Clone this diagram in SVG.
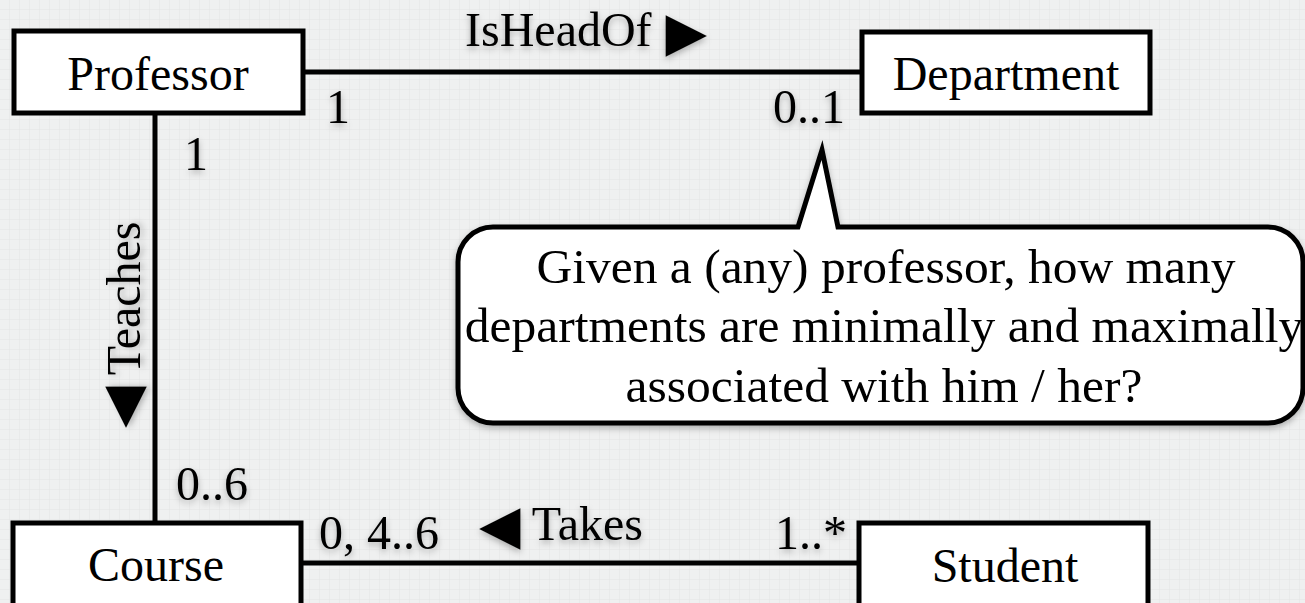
<svg xmlns="http://www.w3.org/2000/svg" width="1305" height="603" viewBox="0 0 1305 603">
  <defs>
    <pattern id="grid" width="10" height="10" patternUnits="userSpaceOnUse">
      <rect width="10" height="10" fill="#eff0f0"/>
      <path d="M10 0 V10 M0 10 H10" stroke="#e3e5e5" stroke-width="1" fill="none"/>
    </pattern>
    <filter id="shadow" x="-20%" y="-20%" width="140%" height="160%">
      <feDropShadow dx="0" dy="3" stdDeviation="3" flood-color="#000" flood-opacity="0.28"/>
    </filter>
  </defs>
  <style>
    .box { fill: #ffffff; stroke: #000000; stroke-width: 5; }
    .conn { stroke: #000000; stroke-width: 5; fill: none; }
    .t { font-family: "Liberation Serif", "Times New Roman", "DejaVu Serif", serif; font-size: 48px; fill: #000000; }
    .lbl { filter: url(#shadow); }
    .tri { font-family: "DejaVu Sans", sans-serif; font-size: 54px; }
    .c { text-anchor: middle; }
    .e { text-anchor: end; }
    .call { font-size: 49.5px; }
  </style>
  <rect width="1305" height="603" fill="url(#grid)"/>

  <g id="connectors">
    <line class="conn" x1="303" y1="72" x2="862" y2="72"/>
    <line class="conn" x1="155" y1="113" x2="155" y2="523"/>
    <line class="conn" x1="301" y1="563" x2="859" y2="563"/>
  </g>

  <g id="labels">
    <text class="t lbl" x="465" y="46">IsHeadOf <tspan class="tri" dx="2" dy="4">▶</tspan></text>
    <text class="t lbl" x="326" y="123">1</text>
    <text class="t lbl e" x="845" y="123">0..1</text>
    <text class="t lbl" x="184" y="170">1</text>
    <text class="t lbl" transform="translate(140,428) rotate(-90)"><tspan class="tri">◀</tspan> Teaches</text>
    <text class="t lbl" x="479" y="540"><tspan class="tri" dy="3">◀</tspan><tspan dy="-3"> Takes</tspan></text>
    <text class="t lbl" x="176" y="500">0..6</text>
    <text class="t lbl" x="319" y="549">0, 4..6</text>
    <text class="t lbl e" x="847" y="549">1..*</text>
  </g>

  <g id="professor">
    <rect class="box" x="14" y="31" width="289" height="82"/>
    <text class="t c" x="158" y="90">Professor</text>
  </g>
  <g id="department">
    <rect class="box" x="862" y="32" width="288" height="81"/>
    <text class="t c" x="1006" y="90">Department</text>
  </g>
  <g id="course">
    <rect class="box" x="13" y="523" width="288" height="100"/>
    <text class="t c" x="156" y="581">Course</text>
  </g>
  <g id="student">
    <rect class="box" x="859" y="523" width="289" height="100"/>
    <text class="t c" x="1005" y="582">Student</text>
  </g>

  <g id="callout">
    <path class="box" filter="url(#shadow)" d="M493 227 H798 L822 150 L838 227 H1268 A35 35 0 0 1 1303 262 V388 A35 35 0 0 1 1268 423 H493 A35 35 0 0 1 458 388 V262 A35 35 0 0 1 493 227 Z"/>
    <text class="t c call" x="886" y="283">Given a (any) professor, how many</text>
    <text class="t c call" x="884" y="342">departments are minimally and maximally</text>
    <text class="t c call" x="884" y="402">associated with him / her?</text>
  </g>
</svg>
